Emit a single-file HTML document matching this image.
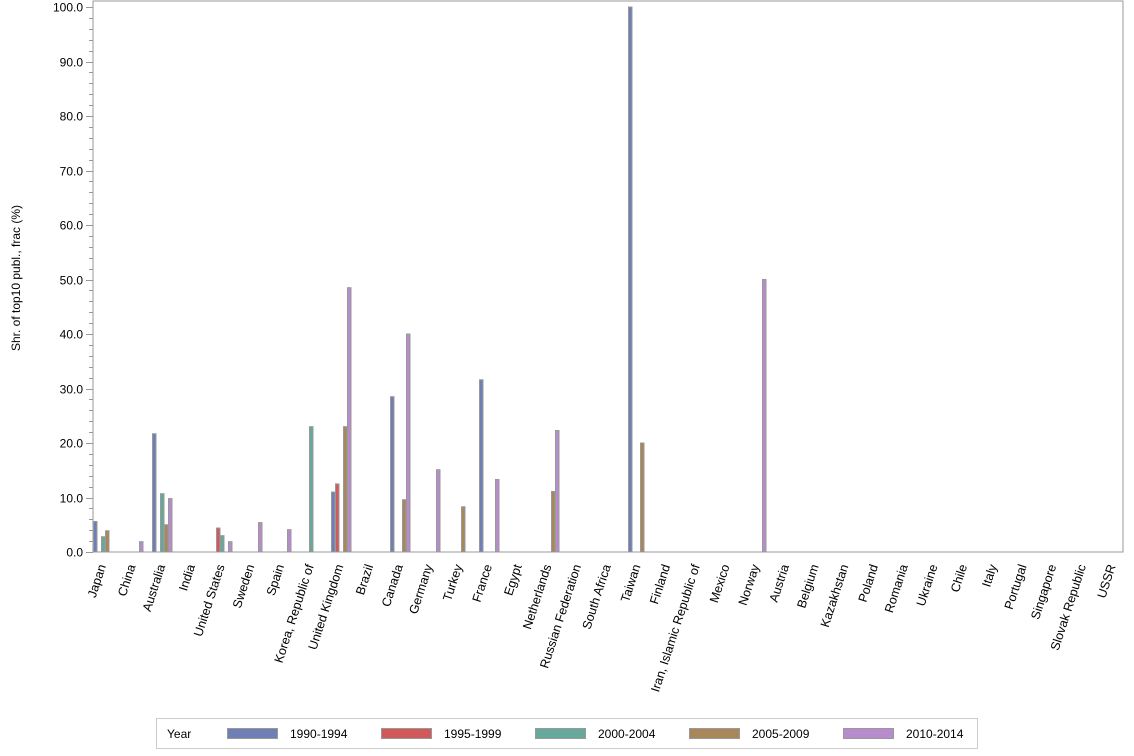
<!DOCTYPE html>
<html><head><meta charset="utf-8"><style>body{margin:0;background:#fff}svg{display:block;font-family:"Liberation Sans",Arial,sans-serif}</style></head>
<body>
<svg width="1134" height="756" viewBox="0 0 1134 756" xmlns="http://www.w3.org/2000/svg">
<rect x="93" y="1" width="1030" height="551" fill="none" stroke="#999"/>
<g id="ax" font-size="12" fill="#000"></g>
<g id="bars"></g>
<text transform="translate(20,278) rotate(-90)" text-anchor="middle" font-size="12">Shr. of top10 publ., frac (%)</text>
<rect x="156.5" y="718.5" width="821" height="30" fill="none" stroke="#ccc"/>
<text x="167" y="738" font-size="12">Year</text>
<g font-size="12">
<rect x="227.5" y="728.5" width="50" height="10" fill="#6f7fb5" stroke="#999"/><text x="290" y="738">1990-1994</text>
<rect x="381.5" y="728.5" width="50" height="10" fill="#d05a5a" stroke="#999"/><text x="444" y="738">1995-1999</text>
<rect x="535.5" y="728.5" width="50" height="10" fill="#66a89c" stroke="#999"/><text x="598" y="738">2000-2004</text>
<rect x="689.5" y="728.5" width="50" height="10" fill="#a8875a" stroke="#999"/><text x="752" y="738">2005-2009</text>
<rect x="843.5" y="728.5" width="50" height="10" fill="#b88ccc" stroke="#999"/><text x="906" y="738">2010-2014</text>
</g>
</svg>
<script>
const ns="http://www.w3.org/2000/svg";
const ax=document.getElementById('ax'),bars=document.getElementById('bars');
function el(t,a,p,txt){const e=document.createElementNS(ns,t);for(const k in a)e.setAttribute(k,a[k]);if(txt)e.textContent=txt;p.appendChild(e);return e;}
const Y=v=>552-v*5.45;
for(let v=0;v<=100;v+=2){const y=Math.round(Y(v))+0.5;const major=v%10==0;
el('line',{x1:major?86:89,x2:93,y1:y,y2:y,stroke:'#999'},ax);
if(major)el('text',{x:83,y:y+4,'text-anchor':'end'},ax,v.toFixed(1));}
const cats=["Japan","China","Australia","India","United States","Sweden","Spain","Korea, Republic of","United Kingdom","Brazil","Canada","Germany","Turkey","France","Egypt","Netherlands","Russian Federation","South Africa","Taiwan","Finland","Iran, Islamic Republic of","Mexico","Norway","Austria","Belgium","Kazakhstan","Poland","Romania","Ukraine","Chile","Italy","Portugal","Singapore","Slovak Republic","USSR"];
const cols=["#6f7fb5","#d05a5a","#66a89c","#a8875a","#b88ccc"];
const data={0:[5.6,0,2.8,3.9,0],1:[0,0,0,0,1.9],2:[21.7,0,10.7,5,9.8],4:[0,4.4,3,0,1.9],5:[0,0,0,0,5.4],6:[0,0,0,0,4.1],7:[0,0,23,0,0],8:[11,12.5,0,23,48.5],10:[28.5,0,0,9.6,40],11:[0,0,0,0,15.1],12:[0,0,0,8.3,0],13:[31.6,0,0,0,13.3],15:[0,0,0,11.1,22.3],18:[100,0,0,20,0],22:[0,0,0,0,50]};
cats.forEach((c,i)=>{const x0=93+i*29.7;const cx=x0+10;
el('text',{x:0,y:0,'font-size':12.5,'text-anchor':'end',transform:`translate(${cx+3},566) rotate(-72)`},ax,c);
const d=data[i];if(d)d.forEach((v,j)=>{if(v>0){const y=Y(v);el('rect',{x:Math.round(x0+j*4)+0.5,y:y,width:3.5,height:552-y,fill:cols[j],stroke:'#999','stroke-width':1},bars);}});});
</script>
</body></html>
